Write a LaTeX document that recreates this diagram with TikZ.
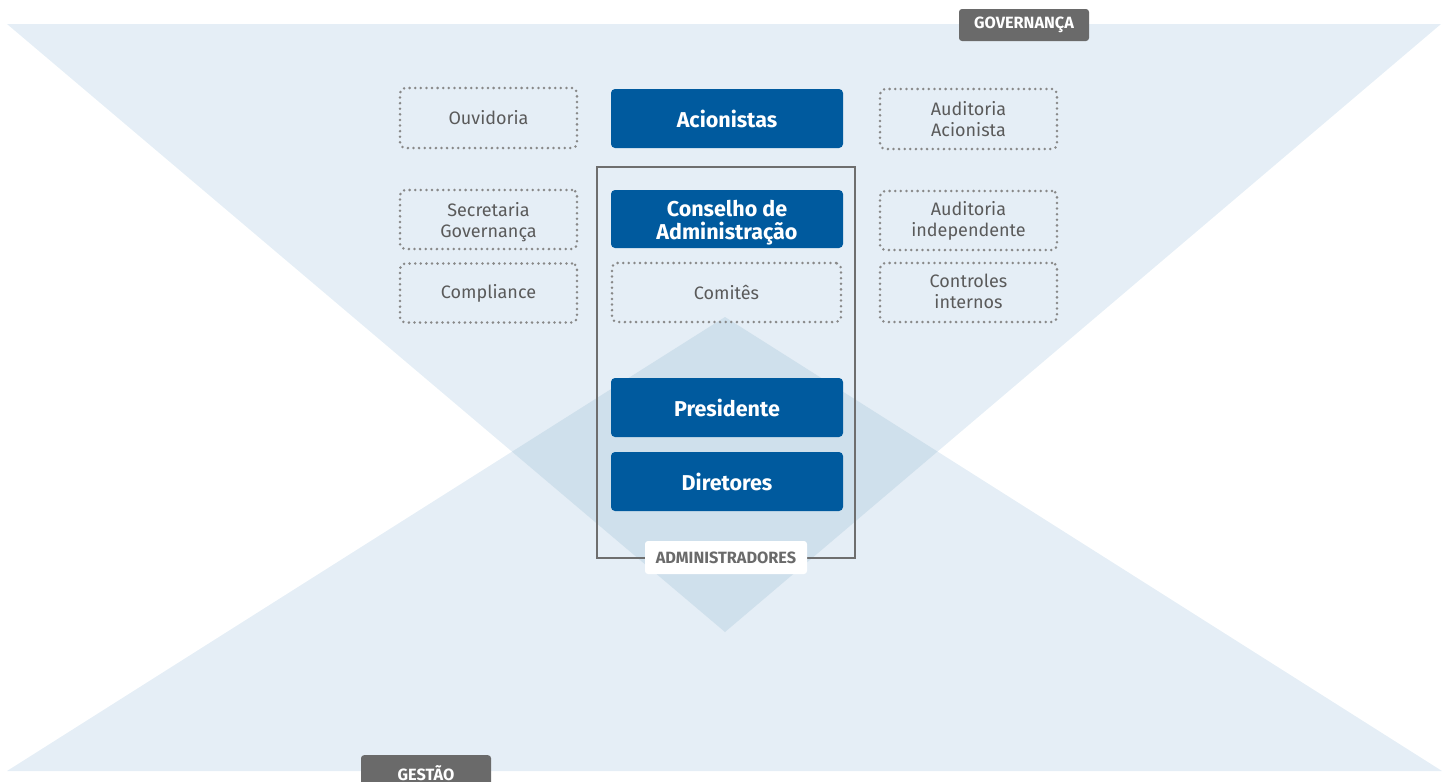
\documentclass[tikz,border=0pt]{standalone}
\usepackage{fontspec}
\setmainfont{Fira Sans}
\begin{document}
\begin{tikzpicture}[x=1pt,y=-1pt,
  solidbox/.style={fill=darkblue, rounded corners=4pt, text=white, font=\fontsize{21.5}{23}\selectfont\bfseries, align=center},
  solidtext/.style={text=white, font=\fontsize{21.5}{23}\selectfont\bfseries, align=center},
  dotbox/.style={draw=dotgray, line width=2.8pt, dash pattern=on 0pt off 5.6pt, line cap=round, rounded corners=5pt, text=txtgray, font=\fontsize{18}{21}\selectfont, align=center},
  tag/.style={fill=taggray, rounded corners=3pt, text=white, font=\fontsize{16.3}{18}\selectfont\bfseries},
  frame/.style={draw=framegray, line width=1.2pt}
]
\definecolor{lightbg}{HTML}{E5EEF6}
\definecolor{overlap}{HTML}{CFE0EC}
\definecolor{darkblue}{HTML}{005A9E}
\definecolor{dotgray}{HTML}{888888}
\definecolor{txtgray}{HTML}{5A5A5A}
\definecolor{taggray}{HTML}{6A6A6A}
\definecolor{framegray}{HTML}{6E6E6E}
\useasboundingbox (0,0) rectangle (1449,782);
% triangles
\coordinate (tl) at (7,24);
\coordinate (tr) at (1441,24);
\coordinate (tb) at (725,632);
\coordinate (bl) at (7,771);
\coordinate (br) at (1442,771);
\coordinate (bt) at (725,317);
\fill[lightbg] (tl) -- (tr) -- (tb) -- cycle;
\fill[lightbg] (bl) -- (br) -- (bt) -- cycle;
\begin{scope}
  \clip (tl) -- (tr) -- (tb) -- cycle;
  \fill[overlap] (bl) -- (br) -- (bt) -- cycle;
\end{scope}
% frame
\draw[frame] (597,167) rectangle (855,558);
% boxes
\node[dotbox, minimum width=177pt, minimum height=60pt] (ouv) at (488.5,118) {Ouvidoria};
\node[solidbox, minimum width=232pt, minimum height=59pt] (acio) at (727,118.5) {Acionistas};
\node[dotbox, minimum width=177pt, minimum height=60pt] (audac) at (968.5,119) {Auditoria\\Acionista};
\node[dotbox, minimum width=177pt, minimum height=59pt] (sec) at (488.5,219.5) {};
\node[text=txtgray, font=\fontsize{18}{21}\selectfont, align=center] (sect) at (488.5,222) {Secretaria\\Governança};
\node[solidbox, minimum width=232pt, minimum height=58pt] (cons) at (727,219) {};
\node[solidtext] (const) at (727,223) {Conselho de\\Administração};
\node[dotbox, minimum width=177pt, minimum height=59pt] (audind) at (968.5,220.5) {Auditoria\\independente};
\node[dotbox, minimum width=177pt, minimum height=59pt] (comp) at (488.5,293) {Compliance};
\node[dotbox, minimum width=229pt, minimum height=59pt] (comi) at (726.5,292.5) {Comitês};
\node[dotbox, minimum width=177pt, minimum height=59pt] (ctrl) at (968.5,292.5) {};
\node[text=txtgray, font=\fontsize{18}{21}\selectfont, align=center] (ctrlt) at (968.5,291.5) {Controles\\internos};
\node[solidbox, minimum width=232pt, minimum height=59pt] (pres) at (727,407.5) {Presidente};
\node[solidbox, minimum width=232pt, minimum height=59pt] (dir) at (727,481.5) {Diretores};
% labels
\node[fill=white, rounded corners=3pt, text=taggray, font=\fontsize{16.3}{18}\selectfont\bfseries, minimum width=162pt, minimum height=33pt] (adm) at (726,557.5) {ADMINISTRADORES};
\node[tag, minimum width=130pt, minimum height=32pt] (gov) at (1024,25) {GOVERNANÇA};
\begin{scope}
\clip (0,0) rectangle (1449,782);
\node[tag, minimum width=130pt, minimum height=40pt, anchor=north] (ges) at (426,755) {};
\node[text=white, font=\fontsize{16.3}{18}\selectfont\bfseries] (gest) at (426,773) {GESTÃO};
\end{scope}
\end{tikzpicture}
\end{document}
